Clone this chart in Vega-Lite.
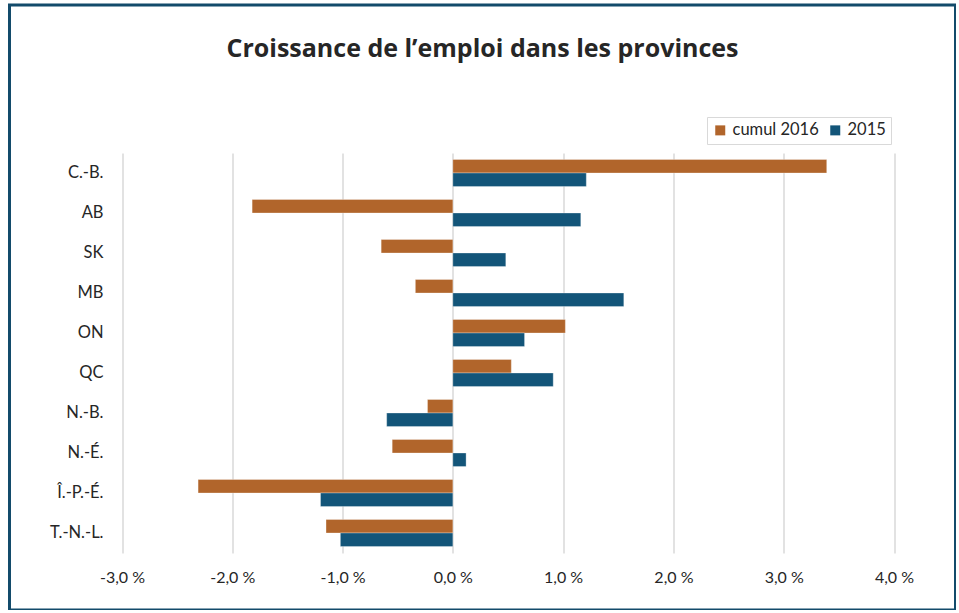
{
  "$schema": "https://vega.github.io/schema/vega-lite/v6.json",
  "width": 946,
  "height": 605,
  "autosize": {"type": "none"},
  "padding": {"left": 9.5, "top": 5, "right": 0, "bottom": 0},
  "background": "white",
  "title": {
    "text": "Croissance de l’emploi dans les provinces",
    "font": "Open Sans",
    "fontSize": 25,
    "fontWeight": "bold",
    "color": "#262626",
    "anchor": "middle",
    "frame": "group",
    "offset": -77,
    "baseline": "alphabetic"
  },
  "data": {
    "values": [
      {"province": "C.-B.", "serie": "cumul 2016", "valeur": 3.39},
      {"province": "C.-B.", "serie": "2015", "valeur": 1.21},
      {"province": "AB", "serie": "cumul 2016", "valeur": -1.82},
      {"province": "AB", "serie": "2015", "valeur": 1.16},
      {"province": "SK", "serie": "cumul 2016", "valeur": -0.65},
      {"province": "SK", "serie": "2015", "valeur": 0.48},
      {"province": "MB", "serie": "cumul 2016", "valeur": -0.34},
      {"province": "MB", "serie": "2015", "valeur": 1.55},
      {"province": "ON", "serie": "cumul 2016", "valeur": 1.02},
      {"province": "ON", "serie": "2015", "valeur": 0.65},
      {"province": "QC", "serie": "cumul 2016", "valeur": 0.53},
      {"province": "QC", "serie": "2015", "valeur": 0.91},
      {"province": "N.-B.", "serie": "cumul 2016", "valeur": -0.23},
      {"province": "N.-B.", "serie": "2015", "valeur": -0.6},
      {"province": "N.-É.", "serie": "cumul 2016", "valeur": -0.55},
      {"province": "N.-É.", "serie": "2015", "valeur": 0.12},
      {"province": "Î.-P.-É.", "serie": "cumul 2016", "valeur": -2.31},
      {"province": "Î.-P.-É.", "serie": "2015", "valeur": -1.2},
      {"province": "T.-N.-L.", "serie": "cumul 2016", "valeur": -1.15},
      {"province": "T.-N.-L.", "serie": "2015", "valeur": -1.02}
    ]
  },
  "mark": {"type": "bar", "stroke": "white", "strokeWidth": 0.5, "strokeOpacity": 0.6},
  "encoding": {
    "y": {
      "field": "province",
      "type": "nominal",
      "sort": null,
      "scale": {"range": [148, 548], "paddingInner": 0.325, "paddingOuter": 0.1625},
      "axis": {
        "title": null,
        "domain": false,
        "ticks": false,
        "grid": false,
        "offset": -112.5,
        "labelPadding": 19,
        "labelFontSize": 16.5,
        "labelFont": "Lato",
        "labelColor": "#262626"
      }
    },
    "yOffset": {
      "field": "serie",
      "type": "nominal",
      "sort": ["cumul 2016", "2015"],
      "scale": {"paddingInner": 0, "paddingOuter": 0}
    },
    "x": {
      "field": "valeur",
      "type": "quantitative",
      "scale": {"domain": [-3, 4], "range": [112.5, 884.5], "nice": false},
      "axis": {
        "orient": "top",
        "offset": -583,
        "title": null,
        "domain": false,
        "ticks": false,
        "grid": true,
        "gridColor": "#d9d9d9",
        "gridWidth": 1.5,
        "values": [-3, -2, -1, 0, 1, 2, 3, 4],
        "labelExpr": "(datum.value < 0 ? '-' : '') + replace(format(abs(datum.value), '.1f'), '.', ',') + ' %'",
        "labelPadding": 3,
        "labelFontSize": 16,
        "labelFont": "Lato",
        "labelColor": "#262626",
        "labelFlush": false
      }
    },
    "color": {
      "field": "serie",
      "type": "nominal",
      "scale": {"domain": ["cumul 2016", "2015"], "range": ["#b1652b", "#135579"]},
      "legend": {
        "orient": "none",
        "legendX": 697.5,
        "legendY": 112,
        "direction": "horizontal",
        "title": null,
        "symbolType": "square",
        "symbolSize": 100,
        "symbolStrokeWidth": 0,
        "labelFontSize": 16.5,
        "labelFont": "Lato",
        "labelColor": "#262626",
        "labelOffset": 4,
        "columnPadding": 8,
        "strokeColor": "#d9d9d9",
        "fillColor": "white",
        "padding": 5
      }
    }
  },
  "config": {"view": {"stroke": "#134b6b", "strokeWidth": 3}}
}
